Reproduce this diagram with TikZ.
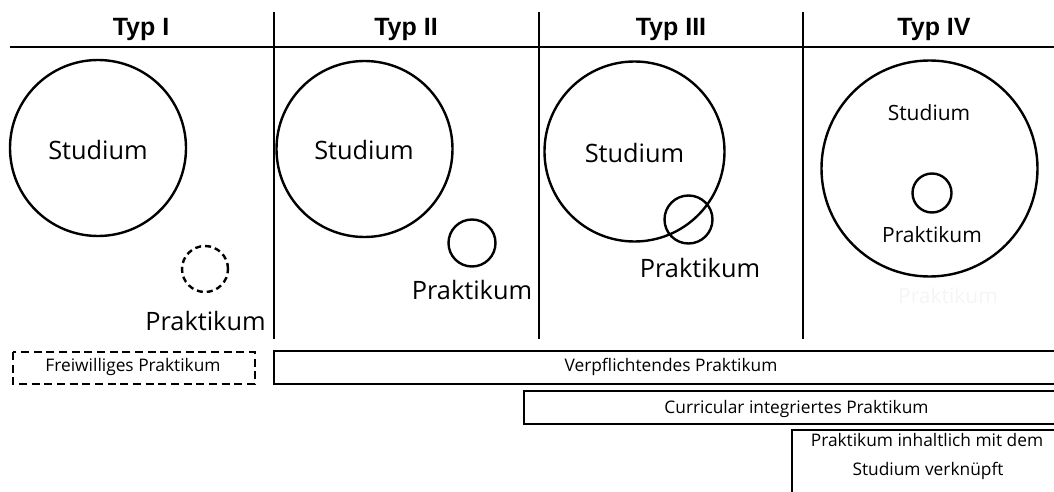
\documentclass[tikz,border=0pt]{standalone}
\usepackage{fontspec}
\setmainfont{Open Sans}
\newfontfamily\headfont{Liberation Sans}
\begin{document}
\begin{tikzpicture}[x=0.75pt,y=-0.75pt,
  rule/.style={line width=1.9pt},
  boxline/.style={line width=1.6pt},
  ring/.style={draw, circle, line width=1.8pt, inner sep=0pt},
  dashring/.style={ring, dash pattern=on 4.5pt off 3pt},
  head/.style={font=\headfont\bfseries\fontsize{18.75}{22}\selectfont, anchor=base, inner sep=0pt},
  bigtxt/.style={font=\fontsize{19}{23}\selectfont, anchor=base, inner sep=0pt},
  midtxt/.style={font=\fontsize{15.75}{19}\selectfont, anchor=base, inner sep=0pt},
  smalltxt/.style={font=\fontsize{13}{16}\selectfont, anchor=base, inner sep=0pt},
]
\useasboundingbox (0,0) rectangle (1054,492);

% header
\node[head] (h1) at (141,36) {Typ I};
\node[head] (h2) at (406,36) {Typ II};
\node[head] (h3) at (671,36) {Typ III};
\node[head] (h4) at (934,36) {Typ IV};
\draw[rule] (10,47) -- (1054,47);
\draw[rule] (274,12) -- (274,339);
\draw[rule] (539,12) -- (539,339);
\draw[rule] (803,12) -- (803,339);

% Typ I
\node[ring, minimum size=132pt] (s1) at (98,148) {};
\node[bigtxt] (t1) at (98,159) {Studium};
\node[dashring, minimum size=34.5pt] (p1) at (205,269) {};
\node[bigtxt] (l1) at (205.5,330) {Praktikum};

% Typ II
\node[ring, minimum size=132pt] (s2) at (364.5,149) {};
\node[bigtxt] (t2) at (364,159) {Studium};
\node[ring, minimum size=35.25pt] (p2) at (472,243) {};
\node[bigtxt] (l2) at (472,299) {Praktikum};

% Typ III
\node[ring, minimum size=135pt] (s3) at (634.5,151.5) {};
\node[bigtxt] (t3) at (634.5,162) {Studium};
\node[ring, minimum size=36pt] (p3) at (688.5,219.5) {};
\node[bigtxt] (l3) at (700,277) {Praktikum};

% Typ IV
\node[ring, minimum size=162pt] (s4) at (929.5,168.5) {};
\node[midtxt] (t4) at (929,121) {Studium};
\node[ring, minimum size=29.25pt] (p4) at (932,193) {};
\node[midtxt] (l4) at (932,242) {Praktikum};
\node[midtxt, text=black!4] (g4) at (948,303) {Praktikum};

% bottom boxes
\draw[boxline, dash pattern=on 6pt off 3.5pt] (13,352) rectangle (255,384);
\node[smalltxt] (b1) at (133,371) {Freiwilliges Praktikum};

\draw[boxline] (1054,351) -- (274,351) -- (274,384) -- (1054,384);
\node[smalltxt] (b2) at (671,371) {Verpflichtendes Praktikum};

\draw[boxline] (1054,391) -- (524,391) -- (524,424) -- (1054,424);
\node[smalltxt] (b3) at (796.5,413) {Curricular integriertes Praktikum};

\draw[boxline] (1054,430) -- (792,430) -- (792,492);
\node[smalltxt] (b4) at (927,446) {Praktikum inhaltlich mit dem};
\node[smalltxt] (b5) at (928,475) {Studium verknüpft};
\end{tikzpicture}
\end{document}
